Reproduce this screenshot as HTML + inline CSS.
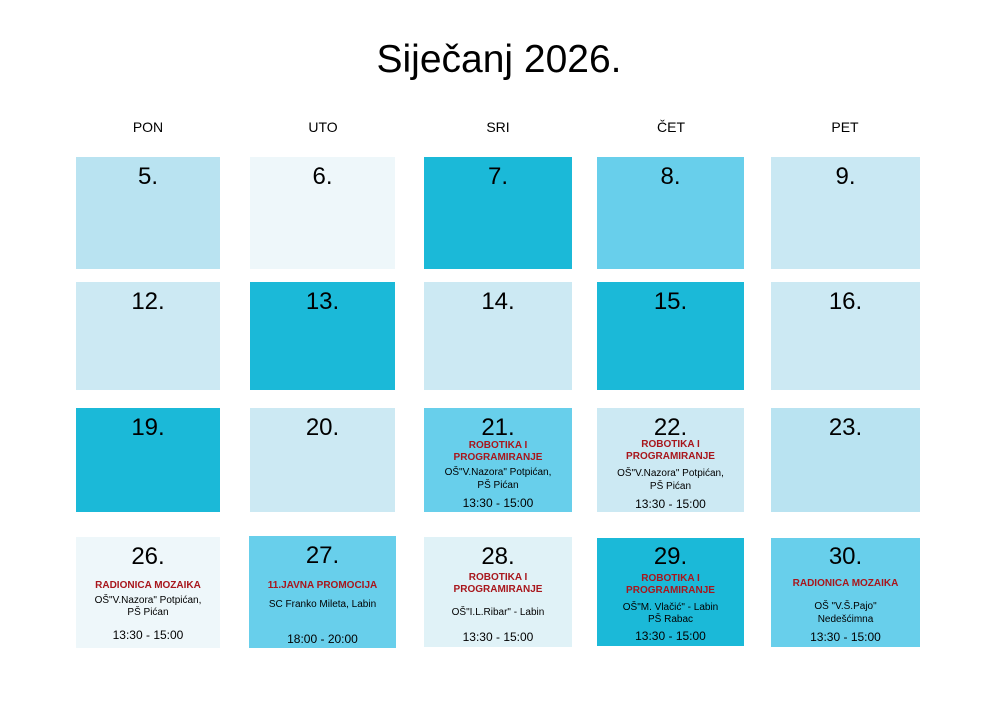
<!DOCTYPE html>
<html><head><meta charset="utf-8"><style>
body{margin:0;width:998px;height:723px;background:#fff;position:relative;font-family:"Liberation Sans",Arial,sans-serif;overflow:hidden}
.t{position:absolute;left:0;width:998px;text-align:center;top:38px;font-size:39px;color:#000}
.w{position:absolute;top:119px;font-size:14px;text-align:center;width:150px}
.c{position:absolute}
.n{position:absolute;left:0;right:0;top:6px;text-align:center;font-size:24px;color:#000}
.l{position:absolute;left:0;right:0;text-align:center;line-height:12px;font-size:10px;color:#000;white-space:nowrap;margin-top:2px}
.r{color:#a8161c;font-weight:bold}
.tm{font-size:12px}
</style></head><body>
<div class="t">Siječanj 2026.</div>
<div class="w" style="left:73px">PON</div>
<div class="w" style="left:248px">UTO</div>
<div class="w" style="left:423px">SRI</div>
<div class="w" style="left:596px">ČET</div>
<div class="w" style="left:770px">PET</div>

<div class="c" style="left:76px;top:157px;width:144px;height:112px;background:#b9e3f1"><div class="n">5.</div></div>
<div class="c" style="left:250px;top:157px;width:145px;height:112px;background:#eef7fa"><div class="n">6.</div></div>
<div class="c" style="left:424px;top:157px;width:148px;height:112px;background:#1bb9d8"><div class="n">7.</div></div>
<div class="c" style="left:597px;top:157px;width:147px;height:112px;background:#68cfeb"><div class="n">8.</div></div>
<div class="c" style="left:771px;top:157px;width:149px;height:112px;background:#c9e8f3"><div class="n">9.</div></div>

<div class="c" style="left:76px;top:282px;width:144px;height:108px;background:#cce9f3"><div class="n">12.</div></div>
<div class="c" style="left:250px;top:282px;width:145px;height:108px;background:#1bb9d8"><div class="n">13.</div></div>
<div class="c" style="left:424px;top:282px;width:148px;height:108px;background:#cce9f3"><div class="n">14.</div></div>
<div class="c" style="left:597px;top:282px;width:147px;height:108px;background:#1bb9d8"><div class="n">15.</div></div>
<div class="c" style="left:771px;top:282px;width:149px;height:108px;background:#cce9f3"><div class="n">16.</div></div>

<div class="c" style="left:76px;top:408px;width:144px;height:104px;background:#1bb9d8"><div class="n">19.</div></div>
<div class="c" style="left:250px;top:408px;width:145px;height:104px;background:#cce9f3"><div class="n">20.</div></div>
<div class="c" style="left:424px;top:408px;width:148px;height:104px;background:#68cfeb"><div class="n">21.</div>
<div class="l r" style="top:30px">ROBOTIKA I</div><div class="l r" style="top:42px">PROGRAMIRANJE</div>
<div class="l" style="top:57px">OŠ"V.Nazora" Potpićan,</div><div class="l" style="top:70px">PŠ Pićan</div>
<div class="l tm" style="top:87px">13:30 - 15:00</div></div>
<div class="c" style="left:597px;top:408px;width:147px;height:104px;background:#cce9f3"><div class="n">22.</div>
<div class="l r" style="top:29px">ROBOTIKA I</div><div class="l r" style="top:41px">PROGRAMIRANJE</div>
<div class="l" style="top:58px">OŠ"V.Nazora" Potpićan,</div><div class="l" style="top:71px">PŠ Pićan</div>
<div class="l tm" style="top:88px">13:30 - 15:00</div></div>
<div class="c" style="left:771px;top:408px;width:149px;height:104px;background:#b9e3f1"><div class="n">23.</div></div>

<div class="c" style="left:76px;top:537px;width:144px;height:111px;background:#eef7fa"><div class="n">26.</div>
<div class="l r" style="top:41px">RADIONICA MOZAIKA</div>
<div class="l" style="top:56px">OŠ"V.Nazora" Potpićan,</div><div class="l" style="top:68px">PŠ Pićan</div>
<div class="l tm" style="top:90px">13:30 - 15:00</div></div>
<div class="c" style="left:249px;top:536px;width:147px;height:112px;background:#68cfeb"><div class="n">27.</div>
<div class="l r" style="top:42px">11.JAVNA PROMOCIJA</div>
<div class="l" style="top:61px">SC Franko Mileta, Labin</div>
<div class="l tm" style="top:95px">18:00 - 20:00</div></div>
<div class="c" style="left:424px;top:537px;width:148px;height:110px;background:#e0f2f7"><div class="n">28.</div>
<div class="l r" style="top:33px">ROBOTIKA I</div><div class="l r" style="top:45px">PROGRAMIRANJE</div>
<div class="l" style="top:68px">OŠ"I.L.Ribar" - Labin</div>
<div class="l tm" style="top:92px">13:30 - 15:00</div></div>
<div class="c" style="left:597px;top:538px;width:147px;height:108px;background:#1bb9d8"><div class="n" style="top:5px">29.</div>
<div class="l r" style="top:33px">ROBOTIKA I</div><div class="l r" style="top:45px">PROGRAMIRANJE</div>
<div class="l" style="top:62px">OŠ"M. Vlačić" - Labin</div><div class="l" style="top:74px">PŠ Rabac</div>
<div class="l tm" style="top:90px">13:30 - 15:00</div></div>
<div class="c" style="left:771px;top:538px;width:149px;height:109px;background:#68cfeb"><div class="n" style="top:5px">30.</div>
<div class="l r" style="top:38px">RADIONICA MOZAIKA</div>
<div class="l" style="top:61px">OŠ "V.Š.Pajo"</div><div class="l" style="top:74px">Nedešćimna</div>
<div class="l tm" style="top:91px">13:30 - 15:00</div></div>
</body></html>
